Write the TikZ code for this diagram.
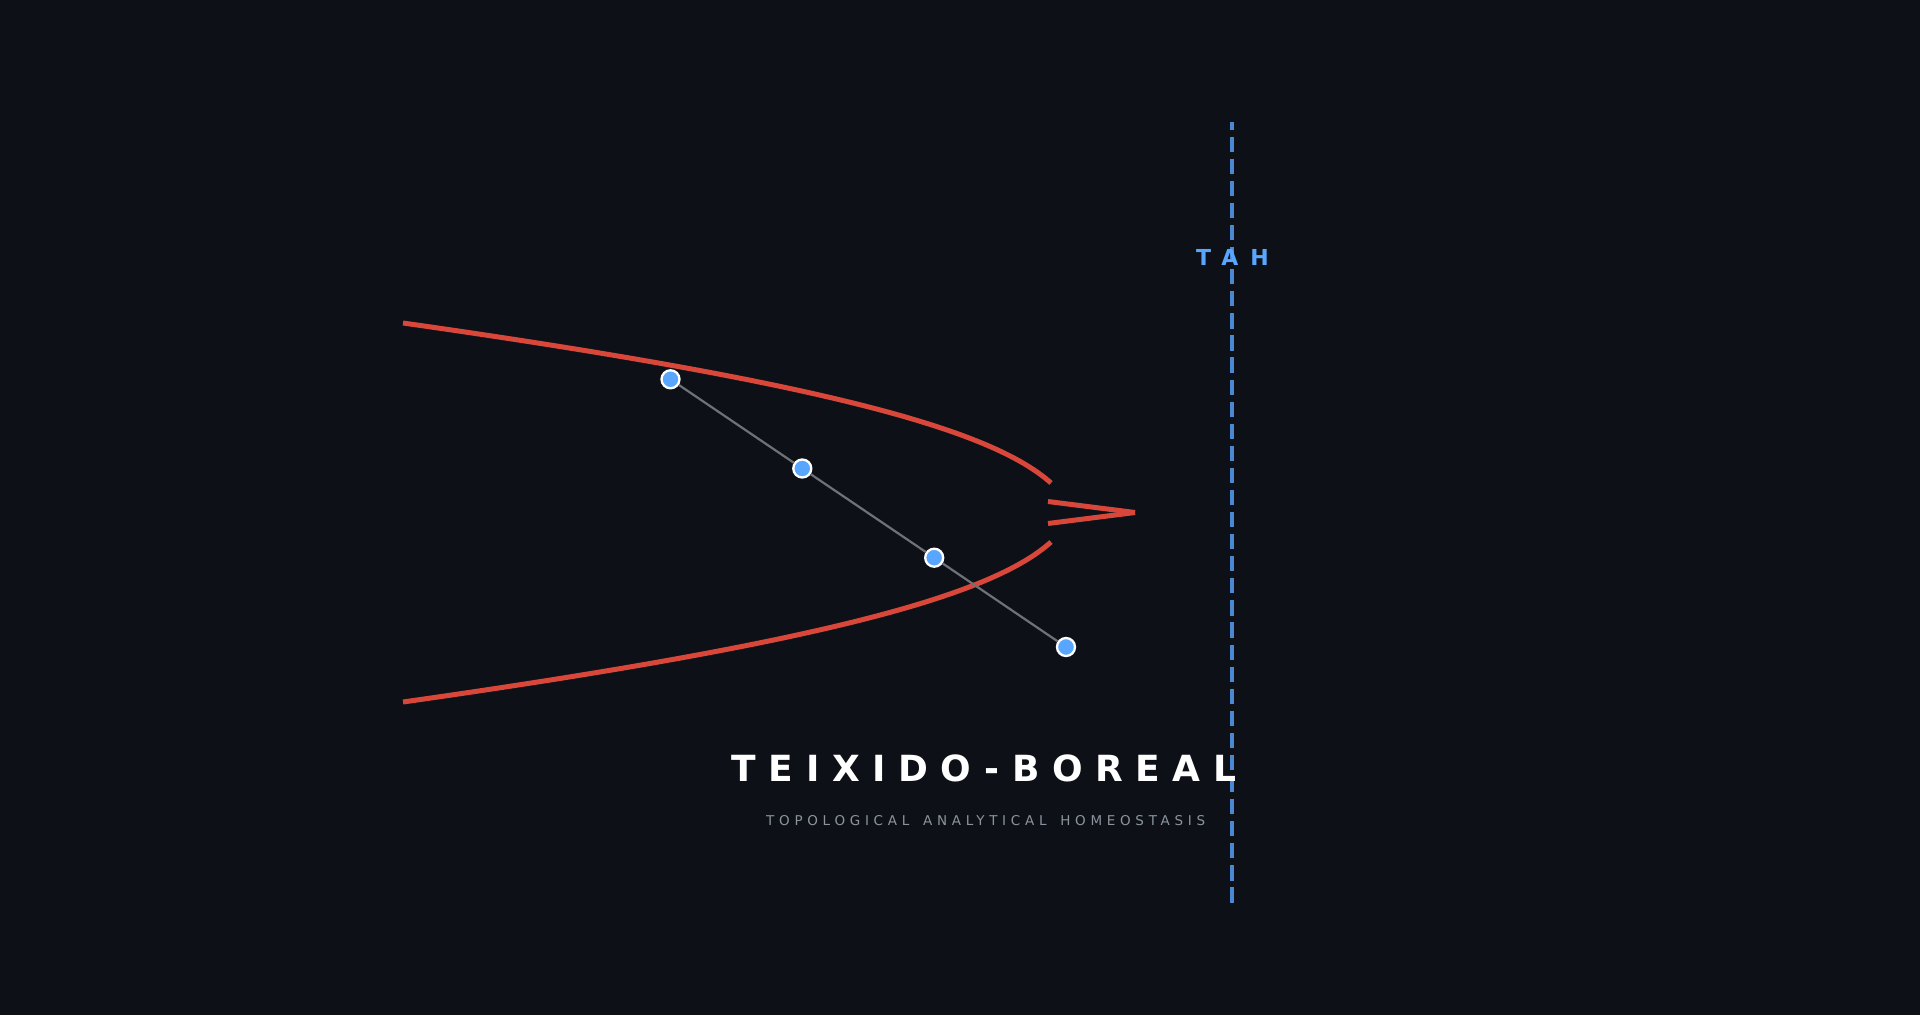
\documentclass[tikz,border=0pt]{standalone}
\usepackage{fontspec}
\setmainfont{DejaVu Sans}
\newfontfamily\titlefont[LetterSpace=35]{DejaVu Sans}
\newfontfamily\tahfont[LetterSpace=54]{DejaVu Sans}
\newfontfamily\subfont[LetterSpace=35]{DejaVu Sans}
\definecolor{bgc}{HTML}{0D1117}
\definecolor{foldred}{HTML}{D9463A}
\definecolor{dotblue}{HTML}{58A6FF}
\definecolor{axisblue}{HTML}{4A88D4}
\definecolor{linkgray}{HTML}{6E7276}
\definecolor{subgray}{HTML}{8B949E}
\tikzset{
  foldline/.style={draw=foldred,line width=5pt,line cap=butt},
  axisline/.style={draw=axisblue,line width=4pt,dash pattern=on 15.2pt off 6.88pt,dash phase=7.4pt},
  linkline/.style={draw=linkgray,line width=2.2pt},
  dotnode/.style={circle,draw=white,line width=2.3pt,fill=dotblue,minimum size=18pt,inner sep=0pt},
  txt/.style={inner sep=0pt,anchor=base west}
}
\begin{document}
\begin{tikzpicture}[x=1pt,y=-1pt]
\fill[bgc] (0,0) rectangle (1920,1015);
\useasboundingbox (0,0) rectangle (1920,1015);

% fold curves
\coordinate (ua) at (403,323);
\coordinate (ub) at (1051,483);
\coordinate (la) at (403,702);
\coordinate (lb) at (1051,542);
\draw[foldline] (ua) .. controls (823,382.6) and (991.5,429.5) .. (ub);
\draw[foldline] (la) .. controls (823,642.4) and (991.5,595.5) .. (lb);

% spike
\coordinate (sa) at (1048,501.5);
\coordinate (sb) at (1048,523.5);
\coordinate (tip) at (1135,512.5);
\draw[foldline] (sa) -- (tip);
\draw[foldline] (sb) -- (tip);

% dashed axis
\coordinate (dtop) at (1232,122);
\coordinate (dbot) at (1232,903.3);
\draw[axisline] (dtop) -- (dbot);

% points and links
\node[dotnode] (p1) at (670.5,379.3) {};
\node[dotnode] (p2) at (802.3,468.5) {};
\node[dotnode] (p3) at (934.2,557.7) {};
\node[dotnode] (p4) at (1066,647) {};
\draw[linkline] (p1) -- (p2);
\draw[linkline] (p2) -- (p3);
\draw[linkline] (p3) -- (p4);

% texts
\node[txt,text=dotblue] (tah) at (1196,265) {\fontsize{22}{26}\tahfont\bfseries TAH};
\node[txt,text=white] (title) at (731.5,781) {\fontsize{36}{42}\titlefont\bfseries TEIXIDO-BOREAL};
\node[txt,text=subgray] (sub) at (766,825) {\fontsize{13.5}{16}\subfont TOPOLOGICAL\kern4.7pt\ ANALYTICAL\kern4.7pt\ HOMEOSTASIS};
\end{tikzpicture}
\end{document}
